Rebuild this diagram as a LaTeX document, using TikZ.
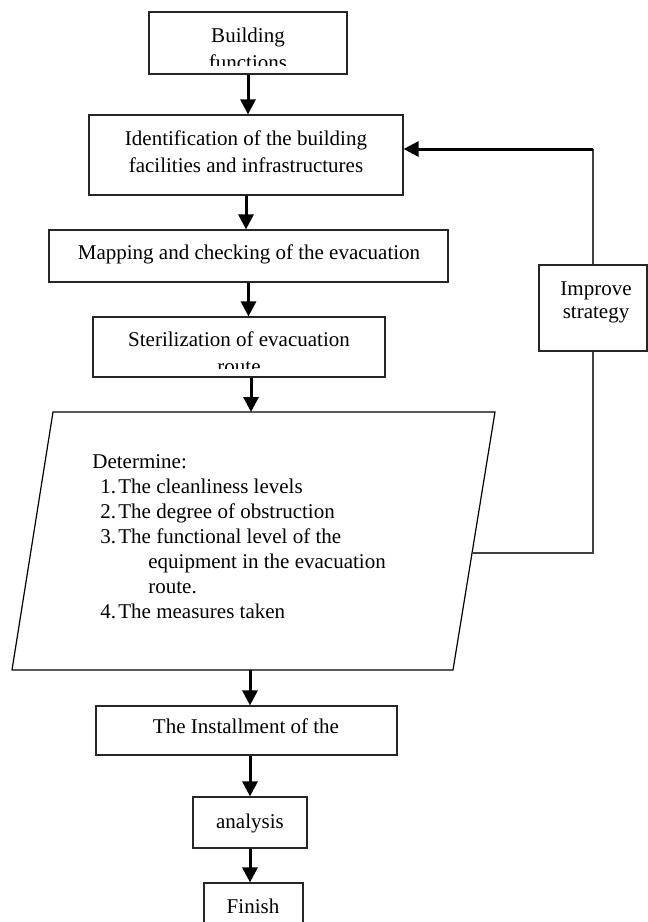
\documentclass[tikz,border=0pt]{standalone}
\usepackage{fontspec}
\setmainfont{Liberation Serif}
\usetikzlibrary{arrows.meta,calc}
\begin{document}
\begin{tikzpicture}[x=0.5pt,y=-0.5pt,
  box/.style={draw=black!85,line width=0.6pt,rectangle,inner sep=0pt},
  lbl/.style={inner sep=0pt,anchor=base,font=\fontsize{10.5}{13.5}\selectfont},
  arr/.style={line width=1.5pt,-{Triangle[width=7.5pt,length=7.5pt]}},
  link/.style={draw=black!75,line width=0.6pt},
]
\clip (0,0) rectangle (648,922);
\fill[white] (0,0) rectangle (648,922);

% Building functions
\node[box,minimum width=99pt,minimum height=31pt] (b1) at (248,43) {};
\begin{scope}
  \clip (150,12) rectangle (346,65);
  \node[lbl] (b1t) at (248,42) {\begin{tabular}[t]{@{}c@{}}Building\\functions\end{tabular}};
\end{scope}

% Identification
\node[box,minimum width=157pt,minimum height=40pt] (b2) at (246,155) {};
\node[lbl] (b2t) at (246,145) {\begin{tabular}[t]{@{}c@{}}Identification of the building\\facilities and infrastructures\end{tabular}};

% Mapping
\node[box,minimum width=199.5pt,minimum height=26pt] (b3) at (248.5,256) {};
\node[lbl] (b3t) at (249,259) {Mapping and checking of the evacuation};

% Sterilization
\node[box,minimum width=146pt,minimum height=30pt] (b4) at (239,347) {};
\begin{scope}
  \clip (94,318) rectangle (384,368);
  \node[lbl] (b4t) at (239,346) {\begin{tabular}[t]{@{}c@{}}Sterilization of evacuation\\route\end{tabular}};
\end{scope}

% Parallelogram
\coordinate (ptl) at (53,412);
\coordinate (ptr) at (495,412);
\coordinate (pbr) at (453,670);
\coordinate (pbl) at (12,670);
\draw[draw=black,line width=0.6pt] (ptl) -- (ptr) -- (pbr) -- (pbl) -- cycle;
\node[inner sep=0pt,anchor=base west,font=\fontsize{10.5}{12.5}\selectfont] (pt) at (92,468) {%
\begin{tabular}[t]{@{}l@{}}
Determine:\\
\makebox[13pt][l]{\hspace*{4pt}1.}The cleanliness levels\\
\makebox[13pt][l]{\hspace*{4pt}2.}The degree of obstruction\\
\makebox[13pt][l]{\hspace*{4pt}3.}The functional level of the\\
\hspace*{28pt}equipment in the evacuation\\
\hspace*{28pt}route.\\
\makebox[13pt][l]{\hspace*{4pt}4.}The measures taken
\end{tabular}};

% Installment
\node[box,minimum width=150.5pt,minimum height=24.5pt] (b5) at (246.5,730.5) {};
\node[lbl] (b5t) at (246,733) {The Installment of the};

% analysis
\node[box,minimum width=57pt,minimum height=25.5pt] (b6) at (250,822.5) {};
\node[lbl] (b6t) at (250,828) {analysis};

% Finish
\node[box,minimum width=49.5pt,minimum height=33.5pt] (b7) at (253.5,916.5) {};
\node[lbl] (b7t) at (253,913) {Finish};

% Improve strategy
\node[box,minimum width=54pt,minimum height=43pt] (imp) at (593,308) {};
\node[lbl,font=\fontsize{10.5}{11.5}\selectfont] (impt) at (596,295) {\begin{tabular}[t]{@{}c@{}}Improve\\strategy\end{tabular}};

% main arrows
\coordinate (pin) at (251,412);
\coordinate (pout) at (250,670);
\draw[arr] (b1.south) -- (b1.south |- b2.north);
\draw[arr] (b2.south) -- (b2.south |- b3.north);
\draw[arr] (b3.south) -- (b3.south |- b4.north);
\draw[arr] (b4.south -| pin) -- (pin);
\draw[arr] (pout) -- (pout |- b5.north);
\draw[arr] (b5.south -| b6.north) -- (b6.north);
\draw[arr] (b6.south) -- (b6.south |- b7.north);

% feedback loop
\coordinate (pr) at ($(pbr)!0.4535!(ptr)$);
\coordinate (fb) at (594,149);
\draw[link] (pr) -| (imp.south);
\draw[link] (imp.north) -- (imp.north |- fb);
\draw[arr] (imp.north |- fb) -- (fb -| b2.east);
\end{tikzpicture}
\end{document}
